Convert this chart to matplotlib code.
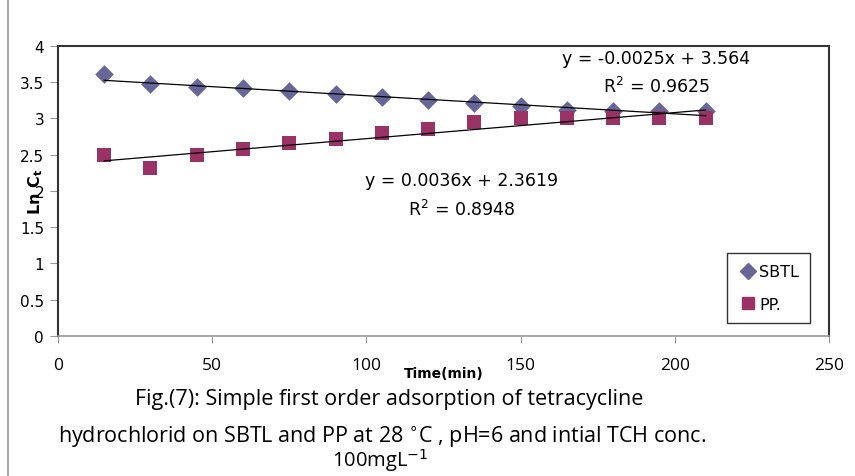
import numpy as np
import matplotlib.pyplot as plt
from matplotlib.lines import Line2D

# Sampling times (min) and ln Ct for the two adsorbents
time = [15, 30, 45, 60, 75, 90, 105, 120, 135, 150, 165, 180, 195, 210]
sbtl = [3.61, 3.48, 3.44, 3.42, 3.38, 3.34, 3.29, 3.26, 3.21, 3.17, 3.12, 3.1, 3.1, 3.1]
pp = [2.50, 2.32, 2.50, 2.58, 2.66, 2.72, 2.80, 2.86, 2.95, 3.01, 3.01, 3.01, 3.01, 3.01]

# linear trendlines as reported
sbtl_fit = (-0.0025, 3.564, 0.9625)
pp_fit = (0.0036, 2.3619, 0.8948)

fig = plt.figure(figsize=(8.55, 4.77), dpi=100)
ax = fig.add_axes([0.0678, 0.2935, 0.9018, 0.608])

ax.scatter(time, sbtl, marker='D', s=90, color='#666699', zorder=3, label='SBTL', linewidths=0)
ax.scatter(time, pp, marker='s', s=110, color='#993366', zorder=3, label='PP.', linewidths=0)

t = np.array([time[0], time[-1]])
ax.plot(t, sbtl_fit[0] * t + sbtl_fit[1], color='black', lw=0.9, zorder=4)
ax.plot(t, pp_fit[0] * t + pp_fit[1], color='black', lw=0.9, zorder=4)

ax.set_xlim(0, 250)
ax.set_ylim(0, 4)
ax.set_xticks(range(0, 251, 50))
ax.set_yticks(np.arange(0, 4.01, 0.5))
ax.set_yticklabels(['0', '0.5', '1', '1.5', '2', '2.5', '3', '3.5', '4'])

for side in ['left', 'top', 'right']:
    ax.spines[side].set_color('#333333')
    ax.spines[side].set_linewidth(1.5)
ax.spines['bottom'].set_color('#999999')
ax.spines['bottom'].set_linewidth(1.2)

ax.tick_params(axis='y', direction='out', length=6, color='#999999', labelsize=11, pad=4)
ax.tick_params(axis='x', direction='out', length=5, color='#999999', labelsize=12.5, pad=10)
for lbl in ax.get_xticklabels():
    lbl.set_fontfamily('Open Sans')

ax.set_xlabel('Time(min)', fontsize=10, fontweight='bold', labelpad=-5)
ax.set_ylabel(r'Ln C$_\mathbf{t}$', fontsize=11.5, fontweight='bold', labelpad=-18)

# trendline equations
eq_kw = dict(fontsize=12.5, ha='center', va='center', zorder=5)
ax.text(194, 3.83, 'y = -0.0025x + 3.564', **eq_kw)
ax.text(194, 3.45, r'R$^2$ = 0.9625', **eq_kw)
ax.text(131, 2.15, 'y = 0.0036x + 2.3619', **eq_kw)
ax.text(131, 1.75, r'R$^2$ = 0.8948', **eq_kw)

handles = [
    Line2D([], [], marker='D', color='#666699', ls='', markersize=8),
    Line2D([], [], marker='s', color='#993366', ls='', markersize=9),
]
leg = ax.legend(handles, ['SBTL', 'PP.'], loc='lower right', bbox_to_anchor=(0.986, 0.017),
                fontsize=11.5, frameon=True, fancybox=False, handletextpad=0.1,
                handlelength=1.2, labelspacing=1.1, borderpad=0.7)
leg.get_frame().set_edgecolor('black')
leg.get_frame().set_linewidth(1.0)

# left page border line
fig.add_artist(Line2D([0.0094, 0.0094], [0, 1], color='#999999', lw=1.2))

# caption
cap_kw = dict(fontsize=15.5, ha='center', va='center', family='Open Sans')
fig.text(0.455, 1 - 399 / 477, 'Fig.(7): Simple first order adsorption of tetracycline', **cap_kw)
fig.text(0.447, 1 - 437 / 477,
         r'hydrochlorid on SBTL and PP at 28 $^{\circ}$C , pH=6 and intial TCH conc.', **cap_kw)
fig.text(0.445, 0.006, r'100mgL$^{-1}$', fontsize=14.5, ha='center', va='bottom',
         family='Open Sans')

fig.savefig('out.png', dpi=100)
